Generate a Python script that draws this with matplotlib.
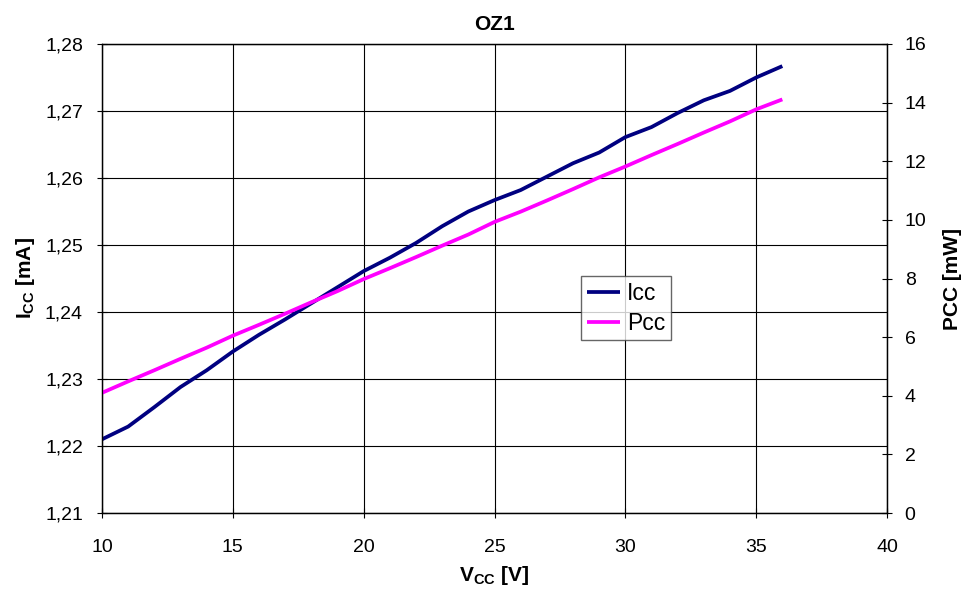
import matplotlib
matplotlib.use("Agg")
import matplotlib.pyplot as plt
from matplotlib.ticker import FuncFormatter

plt.rcParams['font.family'] = ['Liberation Sans', 'DejaVu Sans']
plt.rcParams['mathtext.fontset'] = 'custom'
plt.rcParams['mathtext.rm'] = 'Liberation Sans'
plt.rcParams['mathtext.bf'] = 'Liberation Sans:bold'
plt.rcParams['mathtext.it'] = 'Liberation Sans:italic'

vcc = [10, 11, 12, 13, 14, 15, 16, 17, 18, 19, 20, 21, 22, 23, 24, 25, 26, 27, 28,
       29, 30, 31, 32, 33, 34, 35, 36]
icc = [1.2210, 1.2229, 1.2258, 1.2288, 1.2313, 1.2341, 1.2366, 1.2389, 1.2413, 1.2437,
       1.2461, 1.2481, 1.2503, 1.2528, 1.2550, 1.2567, 1.2582, 1.2602, 1.2622, 1.2638,
       1.2661, 1.2676, 1.2697, 1.2716, 1.2730, 1.2750, 1.2767]
pcc = [4.10, 4.49, 4.87, 5.26, 5.64, 6.05, 6.42, 6.80, 7.19, 7.57, 7.98, 8.35, 8.73,
       9.12, 9.50, 9.93, 10.28, 10.66, 11.05, 11.45, 11.82, 12.21, 12.59, 12.98, 13.36,
       13.77, 14.11]

fig = plt.figure(figsize=(9.61, 5.89), dpi=100)
ax = fig.add_axes([102/961, 1 - 513/589, (887-102)/961, (513-44)/589])
ax2 = ax.twinx()

l1, = ax.plot(vcc, icc, color='#000080', lw=2.7, label='Icc', solid_capstyle='butt')
l2, = ax2.plot(vcc, pcc, color='#FF00FF', lw=2.7, label='Pcc', solid_capstyle='butt')

ax.set_xlim(10, 40)
ax.set_ylim(1.21, 1.28)
ax2.set_ylim(0, 16)
ax.set_xticks(range(10, 41, 5))
ax.set_yticks([1.21, 1.22, 1.23, 1.24, 1.25, 1.26, 1.27, 1.28])
ax2.set_yticks(range(0, 17, 2))
ax.yaxis.set_major_formatter(FuncFormatter(lambda v, p: f"{v:.2f}".replace('.', ',')))

ax.grid(True, color='black', lw=0.8)
ax.set_axisbelow(True)
for a in (ax, ax2):
    for s in a.spines.values():
        s.set_color('black')
        s.set_linewidth(0.9)
ax.tick_params(axis='y', labelsize=14, direction='inout', length=7.5, color='black', pad=10)
ax.tick_params(axis='x', labelsize=14, direction='inout', length=7.5, color='black', pad=15)
ax2.tick_params(axis='y', labelsize=14, direction='inout', length=7.5, color='black', pad=9)

ax.set_title('OZ1', fontsize=15, fontweight='bold', pad=10)
ax.set_xlabel(r'V$_{\mathbf{CC}}$ [V]', fontsize=15, fontweight='bold', labelpad=6)
ax.set_ylabel(r'I$_{\mathbf{CC}}$ [mA]', fontsize=15, fontweight='bold', labelpad=6)
ax2.set_ylabel('PCC [mW]', fontsize=15, fontweight='bold', labelpad=12)

leg = ax2.legend(handles=[l1, l2], loc='upper left', bbox_to_anchor=((581-102)/785, (513-276)/469),
                 fontsize=16.5, frameon=True, fancybox=False, edgecolor='#404040',
                 handlelength=1.45, handletextpad=0.3, borderpad=0.25, labelspacing=0.3,
                 borderaxespad=0)
leg.get_frame().set_linewidth(1.0)

fig.savefig('out.png', dpi=100)
